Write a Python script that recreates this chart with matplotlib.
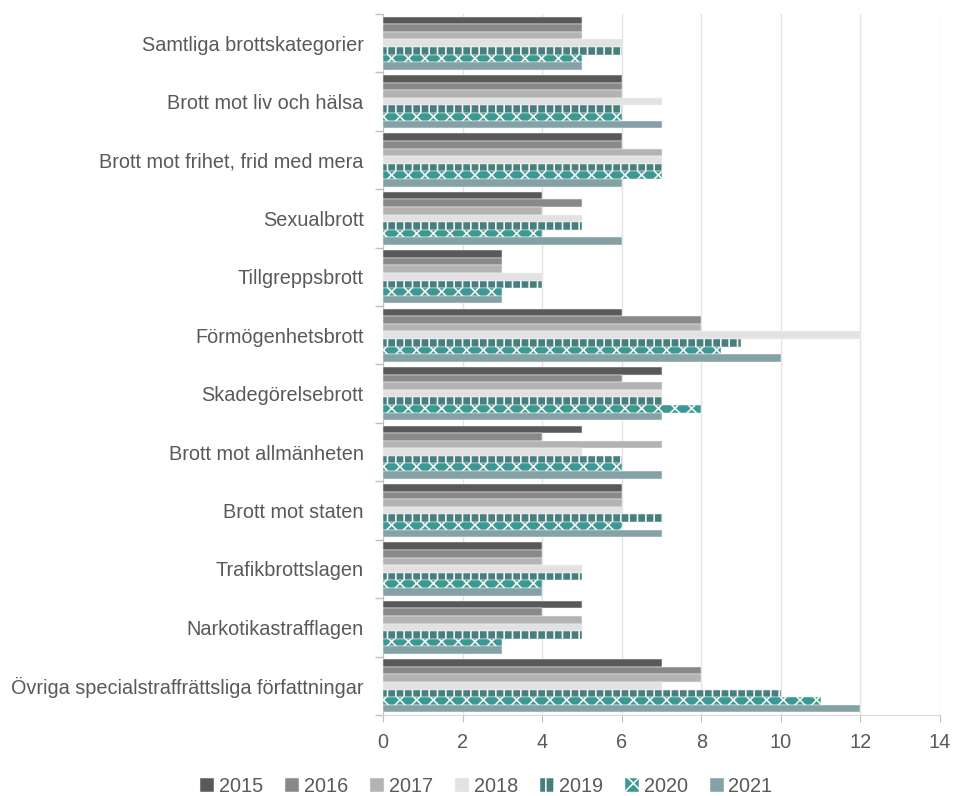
import matplotlib
matplotlib.use("Agg")
import matplotlib.pyplot as plt
import numpy as np
from matplotlib.patches import Patch

categories = [
    "Samtliga brottskategorier",
    "Brott mot liv och hälsa",
    "Brott mot frihet, frid med mera",
    "Sexualbrott",
    "Tillgreppsbrott",
    "Förmögenhetsbrott",
    "Skadegörelsebrott",
    "Brott mot allmänheten",
    "Brott mot staten",
    "Trafikbrottslagen",
    "Narkotikastrafflagen",
    "Övriga specialstraffrättsliga författningar",
]
years = ["2015", "2016", "2017", "2018", "2019", "2020", "2021"]
v2015 = [5, 6, 6, 4, 3, 6, 7, 5, 6, 4, 5, 7]
v2016 = [5, 6, 6, 5, 3, 8, 6, 4, 6, 4, 4, 8]
v2017 = [5, 6, 7, 4, 3, 8, 7, 7, 6, 4, 5, 8]
v2018 = [6, 7, 7, 5, 4, 12, 7, 5, 6, 5, 5, 7]
v2019 = [6, 6, 7, 5, 4, 9, 7, 6, 7, 5, 5, 10]
v2020 = [5, 6, 7, 4, 3, 8.5, 8, 6, 6, 4, 3, 11]
v2021 = [5, 7, 6, 6, 3, 10, 7, 7, 7, 4, 3, 12]
series = [v2015, v2016, v2017, v2018, v2019, v2020, v2021]

colors = ["#595959", "#898989", "#b3b3b3", "#e2e2e2", "#467f7d", "#3a9993", "#84a2a5"]
hatches = [None, None, None, None, "||", "xx", None]

plt.rcParams["font.family"] = ["Liberation Sans", "DejaVu Sans"]
plt.rcParams["hatch.linewidth"] = 1.2

fig = plt.figure(figsize=(9.54, 7.96), dpi=100)
ax = fig.add_axes([0.4015, 0.1018, 0.5838, 0.8806])

n = len(categories)
y = np.arange(n)
h = 0.13
for j, (vals, c, hat) in enumerate(zip(series, colors, hatches)):
    ax.barh(y + (j - 3) * h, vals, height=h, color=c, edgecolor="#f4f4f4",
            linewidth=0.35, hatch=hat, zorder=3)

ax.set_xlim(0, 14)
ax.set_ylim(n - 0.5, -0.5)
ax.set_xticks(np.arange(0, 15, 2))
ax.set_yticks(y)
ax.set_yticklabels(categories)
ax.set_yticks(np.arange(-0.5, n, 1), minor=True)
ax.tick_params(axis="y", which="major", length=0, pad=14, labelsize=14.3, labelcolor="#595959")
ax.tick_params(axis="y", which="minor", length=6, color="#bfbfbf", width=1)
ax.tick_params(axis="x", length=5, color="#bfbfbf", pad=8, labelsize=14.3, labelcolor="#595959")
ax.grid(axis="x", color="#e3e3e3", linewidth=1, zorder=0)
ax.set_axisbelow(True)
for s in ["top", "right"]:
    ax.spines[s].set_visible(False)
ax.spines["left"].set_color("#bfbfbf")
ax.spines["bottom"].set_color("#d9d9d9")

handles = [Patch(facecolor=c, edgecolor="#f4f4f4", linewidth=0.35, hatch=hat, label=yr)
           for c, hat, yr in zip(colors, hatches, years)]
fig.legend(handles=handles, loc="lower center", bbox_to_anchor=(0.51, -0.022), ncol=7,
           frameon=False, fontsize=14.3, handlelength=0.7, handleheight=0.7,
           handletextpad=0.25, columnspacing=1.1, labelcolor="#595959")

fig.savefig("out.png", dpi=100)
